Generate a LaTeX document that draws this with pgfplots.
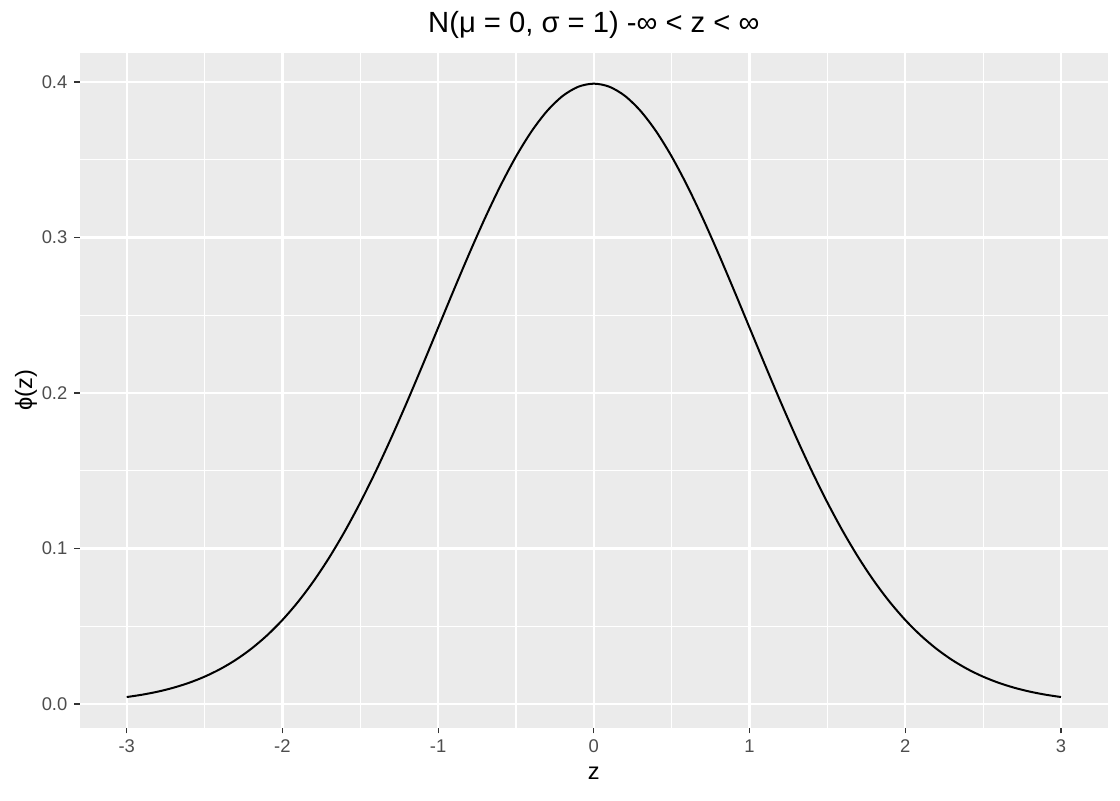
\documentclass[border=0pt]{standalone}
\usepackage{fontspec}
\setmainfont{Liberation Sans}
\usepackage{pgfplots}
\pgfplotsset{compat=1.18}
\definecolor{panelbg}{HTML}{EBEBEB}
\definecolor{ticklab}{HTML}{4D4D4D}
\definecolor{tickcol}{HTML}{333333}
\begin{document}
\begin{tikzpicture}[x=0.5pt,y=0.5pt]
\useasboundingbox (0,0) rectangle (1120,800);
\begin{axis}[
  at={(40pt,36.15pt)}, anchor=south west,
  width=513.85pt, height=337.35pt, scale only axis,
  xmin=-3.3, xmax=3.3, ymin=-0.01529, ymax=0.41866,
  axis background/.style={fill=panelbg},
  axis line style={draw=none},
  xtick={-3,-2,-1,0,1,2,3},
  xticklabels={-3,-2,-1,0,1,2,3},
  ytick={0,0.1,0.2,0.3,0.4},
  yticklabels={0.0,0.1,0.2,0.3,0.4},
  minor xtick={-2.5,-1.5,-0.5,0.5,1.5,2.5},
  minor ytick={0.05,0.15,0.25,0.35},
  grid=both,
  major grid style={white, line width=1.1pt},
  minor grid style={white, line width=0.55pt},
  tick align=outside,
  major tick length=2.8pt,
  minor tick length=0pt,
  tick style={tickcol, line width=0.6pt},
  xtick pos=bottom, ytick pos=left,
  ticklabel style={font=\fontsize{9.2pt}{10pt}\selectfont, text=ticklab},
  xticklabel style={yshift=0.5pt},
  yticklabel style={xshift=0pt},
  xlabel={z}, ylabel={ϕ(z)},
  label style={font=\fontsize{11.8pt}{13pt}\selectfont},
  xlabel style={yshift=-0.5pt},
  ylabel style={yshift=-4.5pt},
  title={N(μ = 0, σ = 1) -∞ < z < ∞},
  title style={font=\fontsize{14.6pt}{16pt}\selectfont, yshift=-2.5pt},
  clip=false,
]
\addplot[black, line width=1pt, smooth] coordinates {
(-3.0,0.004432)(-2.9,0.005953)(-2.8,0.007915)(-2.7,0.010421)(-2.6,0.013583)
(-2.5,0.017528)(-2.4,0.022395)(-2.3,0.028327)(-2.2,0.035475)(-2.1,0.043984)
(-2.0,0.053991)(-1.9,0.065616)(-1.8,0.078950)(-1.7,0.094049)(-1.6,0.110921)
(-1.5,0.129518)(-1.4,0.149727)(-1.3,0.171369)(-1.2,0.194186)(-1.1,0.217852)
(-1.0,0.241971)(-0.9,0.266085)(-0.8,0.289692)(-0.7,0.312254)(-0.6,0.333225)
(-0.5,0.352065)(-0.4,0.368270)(-0.3,0.381388)(-0.2,0.391043)(-0.1,0.396953)
(0.0,0.398942)
(0.1,0.396953)(0.2,0.391043)(0.3,0.381388)(0.4,0.368270)(0.5,0.352065)
(0.6,0.333225)(0.7,0.312254)(0.8,0.289692)(0.9,0.266085)(1.0,0.241971)
(1.1,0.217852)(1.2,0.194186)(1.3,0.171369)(1.4,0.149727)(1.5,0.129518)
(1.6,0.110921)(1.7,0.094049)(1.8,0.078950)(1.9,0.065616)(2.0,0.053991)
(2.1,0.043984)(2.2,0.035475)(2.3,0.028327)(2.4,0.022395)(2.5,0.017528)
(2.6,0.013583)(2.7,0.010421)(2.8,0.007915)(2.9,0.005953)(3.0,0.004432)
};
\end{axis}
\end{tikzpicture}
\end{document}
